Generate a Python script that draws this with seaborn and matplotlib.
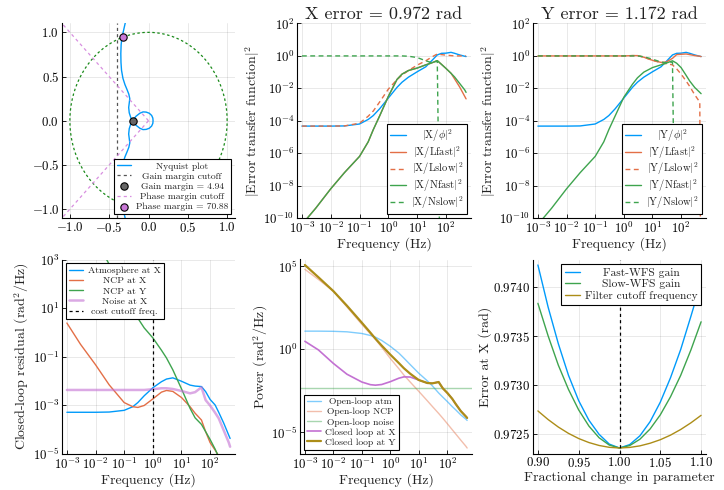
import numpy as np
import matplotlib
matplotlib.use("Agg")
import matplotlib.pyplot as plt
import seaborn as sns
from matplotlib.ticker import FixedLocator, NullLocator, FormatStrFormatter

# Plots.jl default palette
BLUE = "#009AFA"
ORANGE = "#E36F47"
GREEN = "#3EA44E"
PURPLE = "#C371D2"
GOLD = "#AC8D18"

# ---------------- Nyquist panel ----------------
gain_margin = 4.94
phase_margin_deg = 70.88
gain_cutoff_re = -0.4
phase_cutoff_deg = 45.0

# upper branch, from the top of the plot down to the real-axis crossing
nyq_branch_re = [-0.26, -0.287, -0.310, -0.330, -0.338, -0.348, -0.352, -0.350, -0.343, -0.325,
                 -0.300, -0.272, -0.250, -0.238, -0.245, -0.252, -0.245, -0.225, -0.2024]
nyq_branch_im = [1.30, 1.14, 1.05, 0.97, 0.944, 0.86, 0.76, 0.66, 0.57, 0.48,
                 0.41, 0.35, 0.30, 0.25, 0.20, 0.15, 0.09, 0.035, 0.0]
# upper half of the small loop, from the crossing to the right-most point
nyq_lobe_re = [-0.2024, -0.16, -0.11, -0.07, -0.03, 0.01, 0.04, 0.055, 0.058]
nyq_lobe_im = [0.0, 0.05, 0.085, 0.10, 0.098, 0.085, 0.06, 0.03, 0.0]

# ---------------- frequency grid (Hz) ----------------
freq_hz = [0.001, 0.003, 0.01, 0.03, 0.1, 0.2, 0.3, 0.5, 1, 2, 3, 5, 10, 20, 30, 50, 70,
           100, 150, 200, 300, 450, 500]

# error transfer functions, log10 of |.|^2
x_phi_exp = [-4.33, -4.33, -4.33, -4.32, -4.2, -3.92, -3.68, -3.26, -2.6, -1.94, -1.62, -1.31,
             -0.98, -0.67, -0.35, 0.06, 0.16, 0.17, 0.22, 0.16, 0.06, -0.02, -0.04]
x_lfast_exp = [-10.4, -9.4, -8.2, -7.2, -6.2, -5.3, -4.55, -3.7, -2.5, -1.45, -1.12, -0.9,
               -0.75, -0.55, -0.45, -0.29, -0.52, -0.77, -1.07, -1.42, -1.92, -2.5, -2.65]
x_lslow_exp = [-4.33, -4.33, -4.33, -4.32, -4.15, -3.72, -3.4, -2.84, -2.05, -1.46, -1.18, -0.9,
               -0.57, -0.3, -0.1, 0.12, 0.08, 0.05, 0.02, 0.0, 0.0, 0.0, 0.0]
x_nfast_exp = [-10.4, -9.4, -8.2, -7.2, -6.2, -5.3, -4.55, -3.7, -2.5, -1.45, -1.12, -0.9,
               -0.75, -0.55, -0.45, -0.29, -0.52, -0.77, -1.07, -1.3, -1.7, -2.1, -2.25]
x_nslow_exp = [0, 0, 0, 0, 0, 0, 0, 0, 0, 0, 0, -0.02, -0.1, -0.3, -0.4, -0.33,
               -20, -20, -20, -20, -20, -20, -20]

y_phi_exp = x_phi_exp
y_lfast_exp = [0, 0, 0, 0, 0, 0, 0, 0, 0, 0.02, 0.02, -0.08, -0.27, -0.4, -0.38, -0.15,
               0.08, 0.1, 0.12, 0.08, 0.02, -0.02, -0.04]
y_lslow_exp = [0, 0, 0, 0, 0, 0, 0, 0, 0, 0.02, 0.02, -0.08, -0.27, -0.42, -0.48, -0.55,
               -0.8, -1.12, -1.55, -1.88, -2.4, -2.85, -20]
y_nfast_exp = [-10.4, -9.4, -8.2, -7.2, -6.2, -5.3, -4.55, -3.7, -2.55, -1.75, -1.35, -1.0,
               -0.72, -0.55, -0.45, -0.3, -0.45, -0.72, -1.2, -1.55, -1.95, -2.25, -2.33]
y_nslow_exp = [0, 0, 0, 0, 0, 0, 0, 0, 0, 0, 0, -0.05, -0.2, -0.38, -0.42, -0.38,
               -20, -20, -20, -20, -20, -20, -20]

# closed-loop residuals, log10(rad^2/Hz)
atm_x_exp = [-3.30, -3.30, -3.30, -3.29, -3.22, -3.07, -2.9, -2.62, -2.29, -2.04, -1.93, -1.88,
             -2.02, -2.18, -2.22, -2.24, -2.45, -2.77, -3.0, -3.3, -3.75, -4.25, -4.38]
ncp_x_exp = [0.38, -0.5, -1.34, -2.17, -2.9, -3.07, -3.1, -3.02, -2.75, -2.47, -2.4, -2.44,
             -2.69, -3.07, -3.34, -3.62, -4.1, -4.55, -4.86, -5.1, -5.5, -5.9, -6.0]
ncp_y_exp = [5.9, 4.9, 3.85, 2.8, 1.6, 0.97, 0.58, 0.18, -0.23, -0.74, -1.06, -1.55,
             -2.33, -3.14, -3.53, -3.8, -4.1, -4.42, -4.82, -5.15, -5.6, -6.0, -6.1]
noise_x_exp = [-2.38, -2.38, -2.38, -2.38, -2.38, -2.38, -2.38, -2.38, -2.35, -2.31, -2.31, -2.34,
               -2.42, -2.52, -2.47, -2.27, -2.8, -3.02, -3.32, -3.55, -4.05, -4.55, -4.72]
cost_cutoff_hz = 1.0

# power spectra, log10(rad^2/Hz)
ol_atm_exp = [1.09, 1.09, 1.08, 1.05, 0.95, 0.83, 0.73, 0.53, 0.18, -0.23, -0.53, -0.92,
              -1.44, -1.9, -2.2, -2.63, -2.88, -3.14, -3.45, -3.65, -3.95, -4.2, -4.28]
ol_ncp_exp = [4.81, 4.2, 3.5, 2.55, 1.5, 0.93, 0.6, 0.12, -0.55, -1.17, -1.55, -1.97,
              -2.53, -3.1, -3.44, -3.86, -4.15, -4.47, -4.84, -5.1, -5.47, -5.83, -5.94]
ol_noise_exp = -2.33
cl_x_exp = [0.48, -0.04, -0.85, -1.5, -1.97, -2.13, -2.16, -2.12, -1.95, -1.74, -1.66, -1.67,
            -1.85, -2.03, -2.05, -1.97, -2.35, -2.62, -2.98, -3.3, -3.72, -4.04, -4.13]
cl_y_exp = [5.07, 4.33, 3.5, 2.62, 1.6, 1.0, 0.64, 0.22, -0.32, -0.83, -1.14, -1.47,
            -1.85, -2.03, -2.05, -1.97, -2.35, -2.62, -2.98, -3.3, -3.72, -4.04, -4.13]

# sensitivity to parameters
param_frac = [0.9, 0.9125, 0.925, 0.9375, 0.95, 0.9625, 0.975, 0.9875, 1.0,
              1.0125, 1.025, 1.0375, 1.05, 1.0625, 1.075, 1.0875, 1.1]
fast_gain_err = [0.974229, 0.973798, 0.973423, 0.973098, 0.972838, 0.972638, 0.972493, 0.972393,
                 0.972353, 0.972388, 0.972478, 0.972623, 0.972823, 0.973073, 0.973363, 0.973703,
                 0.974053]
slow_gain_err = [0.973836, 0.973503, 0.973203, 0.972953, 0.972743, 0.972578, 0.972458, 0.972383,
                 0.972353, 0.972378, 0.972443, 0.972548, 0.972693, 0.972878, 0.973098, 0.973358,
                 0.973647]
cutoff_err = [0.972733, 0.972645, 0.972568, 0.972503, 0.972450, 0.972409, 0.972379, 0.972360,
              0.972353, 0.972359, 0.972375, 0.972402, 0.972438, 0.972485, 0.972543, 0.972611,
              0.972688]


def p10(a):
    return np.power(10.0, np.asarray(a, dtype=float))


def widen(lo, hi, f=0.03):
    d = hi - lo
    return lo - f * d, hi + f * d


sns.set_theme(style="ticks")
plt.rcParams.update({
    "font.family": "cmr10",
    "mathtext.fontset": "cm",
    "axes.formatter.use_mathtext": True,
    "axes.unicode_minus": True,
    "font.size": 10,
    "axes.labelsize": 10,
    "xtick.labelsize": 9.2,
    "ytick.labelsize": 9.2,
    "axes.edgecolor": "black",
    "axes.linewidth": 0.8,
    "xtick.color": "black",
    "ytick.color": "black",
    "text.color": "#222222",
    "axes.labelcolor": "#222222",
})

W, H = 724, 490
fig = plt.figure(figsize=(W / 100, H / 100), dpi=100)


def rect(x0, y0, x1, y1):
    return [x0 / W, 1 - y1 / H, (x1 - x0) / W, (y1 - y0) / H]


ax1 = fig.add_axes(rect(62, 23.5, 235, 218))
ax2 = fig.add_axes(rect(297, 23.5, 471, 218))
ax3 = fig.add_axes(rect(533, 23.5, 706, 218))
ax4 = fig.add_axes(rect(62, 259.5, 235, 453.5))
ax5 = fig.add_axes(rect(300, 259.5, 472, 453.5))
ax6 = fig.add_axes(rect(533, 259.5, 706, 453.5))

for ax in (ax1, ax2, ax3, ax4, ax5, ax6):
    sns.despine(ax=ax)
    ax.tick_params(direction="in", length=3, width=0.6, pad=2)

DASH = (0, (3.5, 2.5))
legends = []


def make_legend(ax, loc, fs, hl=1.45, ls=0.15, **kw):
    leg = ax.legend(loc=loc, fontsize=fs, frameon=True, fancybox=False, framealpha=1,
                    edgecolor="black", handlelength=hl, borderpad=0.3, labelspacing=ls,
                    handletextpad=0.5, borderaxespad=0.4, **kw)
    leg.get_frame().set_linewidth(0.8)
    legends.append(leg)
    return leg


# ---------------- panel 1: Nyquist ----------------
br_re = np.array(nyq_branch_re)
br_im = np.array(nyq_branch_im)
lb_re = np.array(nyq_lobe_re)
lb_im = np.array(nyq_lobe_im)
path_re = np.concatenate([br_re, lb_re[1:], lb_re[::-1][1:], br_re[::-1][1:]])
path_im = np.concatenate([br_im, -lb_im[1:], lb_im[::-1][1:], -br_im[::-1][1:]])

theta = np.linspace(0, 2 * np.pi, 300)
sns.lineplot(x=np.cos(theta), y=np.sin(theta), ax=ax1, color="#1a8a1a", lw=0.9,
             linestyle=(0, (2, 2)), sort=False, estimator=None)
sns.lineplot(x=path_re, y=path_im, ax=ax1, color=BLUE, lw=1.0, sort=False, estimator=None,
             label="Nyquist plot")
ax1.axvline(gain_cutoff_re, color="#555555", lw=0.9, linestyle=(0, (2.5, 2.5)),
            label="Gain margin cutoff")
sns.scatterplot(x=[-1 / gain_margin], y=[0.0], ax=ax1, s=28, color="#666666",
                edgecolor="black", linewidth=0.8, zorder=5,
                label=f"Gain margin = {gain_margin}")
pc = np.deg2rad(180 - phase_cutoff_deg)
sns.lineplot(x=[0, 2 * np.cos(pc)], y=[0, 2 * np.sin(pc)], ax=ax1, color="#D88FE0", lw=0.9,
             linestyle=(0, (2.5, 2.5)), sort=False, estimator=None, label="Phase margin cutoff")
sns.lineplot(x=[0, 2 * np.cos(pc)], y=[0, -2 * np.sin(pc)], ax=ax1, color="#D88FE0", lw=0.9,
             linestyle=(0, (2.5, 2.5)), sort=False, estimator=None)
pm = np.deg2rad(180 - phase_margin_deg)
sns.scatterplot(x=[np.cos(pm)], y=[np.sin(pm)], ax=ax1, s=28, color="#C878D6",
                edgecolor="black", linewidth=0.8, zorder=5,
                label=f"Phase margin = {phase_margin_deg}")
ax1.set_xlim(-1.1, 1.1)
ax1.set_ylim(-1.1, 1.1)
ax1.xaxis.set_major_locator(FixedLocator([-1.0, -0.5, 0.0, 0.5, 1.0]))
ax1.yaxis.set_major_locator(FixedLocator([-1.0, -0.5, 0.0, 0.5, 1.0]))
ax1.xaxis.set_major_formatter(FormatStrFormatter("$%.1f$"))
ax1.yaxis.set_major_formatter(FormatStrFormatter("$%.1f$"))
ax1.set_xlabel("")
ax1.set_ylabel("")
make_legend(ax1, "lower right", 6.9)

# ---------------- frequency panels ----------------
fx_lo, fx_hi = widen(np.log10(freq_hz[0]), np.log10(freq_hz[-1]))
freq_ticks = [1e-3, 1e-2, 1e-1, 1e0, 1e1, 1e2]


def freq_axes(ax, ylim, yticks):
    ax.set_xscale("log")
    ax.set_yscale("log")
    ax.set_xlim(10 ** fx_lo, 10 ** fx_hi)
    ax.set_ylim(*ylim)
    ax.xaxis.set_major_locator(FixedLocator(freq_ticks))
    ax.yaxis.set_major_locator(FixedLocator(yticks))
    ax.xaxis.set_minor_locator(NullLocator())
    ax.yaxis.set_minor_locator(NullLocator())
    ax.set_xlabel("Frequency (Hz)", labelpad=1)


def curve(ax, vals, color, label, ls="-", lw=1.0, alpha=1.0):
    sns.lineplot(x=freq_hz, y=p10(vals), ax=ax, color=color, lw=lw, linestyle=ls,
                 alpha=alpha, label=label, sort=False, estimator=None)


etf_ticks = [1e-10, 1e-8, 1e-6, 1e-4, 1e-2, 1e0, 1e2]
for ax, nm, series, title in [
    (ax2, "X", [x_phi_exp, x_lfast_exp, x_lslow_exp, x_nfast_exp, x_nslow_exp], "X error = 0.972 rad"),
    (ax3, "Y", [y_phi_exp, y_lfast_exp, y_lslow_exp, y_nfast_exp, y_nslow_exp], "Y error = 1.172 rad"),
]:
    curve(ax, series[0], BLUE, r"$|\mathrm{%s}/\phi|^2$" % nm)
    curve(ax, series[1], ORANGE, r"$|\mathrm{%s/Lfast}|^2$" % nm)
    curve(ax, series[2], ORANGE, r"$|\mathrm{%s/Lslow}|^2$" % nm, ls=DASH)
    curve(ax, series[3], GREEN, r"$|\mathrm{%s/Nfast}|^2$" % nm)
    curve(ax, series[4], GREEN, r"$|\mathrm{%s/Nslow}|^2$" % nm, ls=DASH)
    freq_axes(ax, (1e-10, 1e2), etf_ticks)
    ax.set_ylabel(r"$|\mathrm{Error\ transfer\ function}|^2$", labelpad=1)
    ax.set_title(title, fontsize=13, pad=3)
    make_legend(ax, "lower right", 7.6, ls=0.0)

# panel 4: closed-loop residuals
curve(ax4, atm_x_exp, BLUE, "Atmosphere at X")
curve(ax4, ncp_x_exp, ORANGE, "NCP at X")
curve(ax4, ncp_y_exp, GREEN, "NCP at Y")
curve(ax4, noise_x_exp, PURPLE, "Noise at X", lw=1.8, alpha=0.6)
ax4.axvline(cost_cutoff_hz, color="black", lw=0.9, linestyle=(0, (2.5, 2.5)),
            label="cost cutoff freq.")
freq_axes(ax4, (1e-5, 1e3), [1e-5, 1e-3, 1e-1, 1e1, 1e3])
ax4.set_ylabel("Closed-loop residual (rad$^2$/Hz)", labelpad=1)
make_legend(ax4, "upper left", 7.0)

# panel 5: power spectra
curve(ax5, ol_atm_exp, BLUE, "Open-loop atm", alpha=0.5)
curve(ax5, ol_ncp_exp, ORANGE, "Open-loop NCP", alpha=0.45)
ax5.axhline(p10(ol_noise_exp), color=GREEN, lw=1.0, alpha=0.45, label="Open-loop noise")
curve(ax5, cl_x_exp, PURPLE, "Closed loop at X", lw=1.2)
curve(ax5, cl_y_exp, GOLD, "Closed loop at Y", lw=1.6)
all5 = np.concatenate([ol_atm_exp, ol_ncp_exp, cl_x_exp, cl_y_exp, [ol_noise_exp]])
py_lo, py_hi = widen(all5.min(), all5.max())
freq_axes(ax5, (10 ** py_lo, 10 ** py_hi), [1e-5, 1e0, 1e5])
ax5.set_ylabel("Power (rad$^2$/Hz)", labelpad=1)
make_legend(ax5, "lower left", 6.9)

# panel 6: parameter sensitivity
sns.lineplot(x=param_frac, y=fast_gain_err, ax=ax6, color=BLUE, lw=1.0, label="Fast-WFS gain",
             sort=False, estimator=None)
sns.lineplot(x=param_frac, y=slow_gain_err, ax=ax6, color=GREEN, lw=1.0, label="Slow-WFS gain",
             sort=False, estimator=None)
sns.lineplot(x=param_frac, y=cutoff_err, ax=ax6, color=GOLD, lw=1.0,
             label="Filter cutoff frequency", sort=False, estimator=None)
ax6.axvline(1.0, color="black", lw=0.9, linestyle=(0, (2.5, 2.5)))
ax6.set_xlim(*widen(param_frac[0], param_frac[-1]))
all6 = np.concatenate([fast_gain_err, slow_gain_err, cutoff_err])
ax6.set_ylim(*widen(all6.min(), all6.max()))
ax6.xaxis.set_major_locator(FixedLocator([0.90, 0.95, 1.00, 1.05, 1.10]))
ax6.yaxis.set_major_locator(FixedLocator([0.9725, 0.9730, 0.9735, 0.9740]))
ax6.xaxis.set_major_formatter(FormatStrFormatter("$%.2f$"))
ax6.yaxis.set_major_formatter(FormatStrFormatter("$%.4f$"))
ax6.set_xlabel("Fractional change in parameter", labelpad=1)
ax6.set_ylabel("Error at X (rad)", labelpad=1)
make_legend(ax6, "upper right", 8.3, hl=1.3)

for ax in (ax1, ax2, ax3, ax4, ax5, ax6):
    ax.grid(True, which="major", color="black", alpha=0.1, lw=0.6)
    ax.set_axisbelow(True)

# centre legend labels the way Plots.jl does
fig.canvas.draw()
renderer = fig.canvas.get_renderer()
for leg in legends:
    texts = leg.get_texts()
    widths = [t.get_window_extent(renderer).width for t in texts]
    wmax = max(widths)
    for t, w in zip(texts, widths):
        t.set_x((wmax - w) / 2)

fig.savefig("out.png", dpi=100)
